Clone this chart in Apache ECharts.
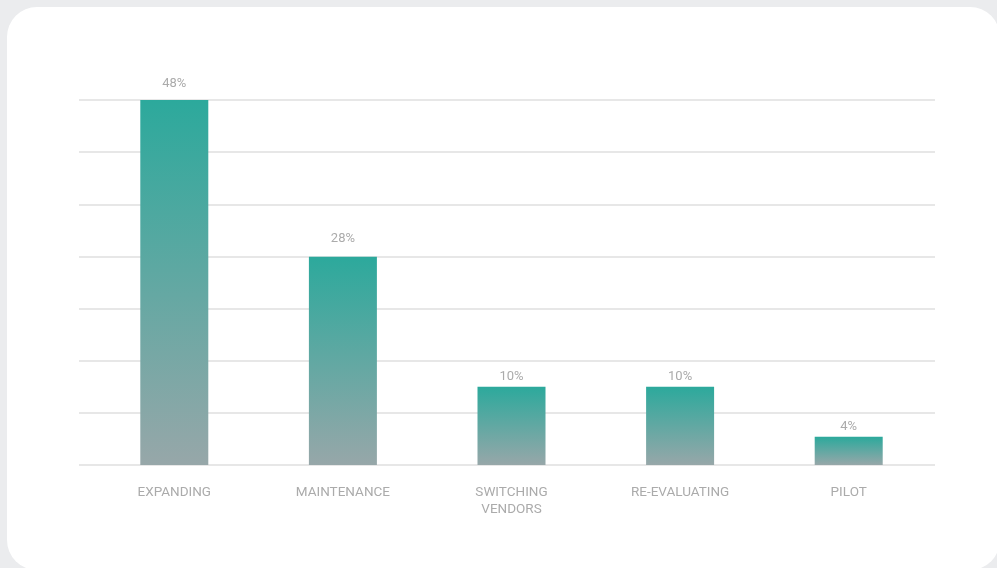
<!DOCTYPE html>
<html>
<head>
<meta charset="utf-8">
<script src="https://cdn.jsdelivr.net/npm/echarts@6/dist/echarts.min.js"></script>
<style>
    html, body { margin: 0; padding: 0; background: #ebecee; overflow: hidden; }
    #card { position: absolute; left: 7px; top: 7px; width: 993px; height: 563px; background: #fff; border-radius: 30px; }
    #chart { position: absolute; left: 0; top: 0; width: 997px; height: 568px; }
</style>
</head>
<body>
<div id="card"></div>
<div id="chart"></div>
<script>
    // values, labels as printed above the bars
    var categories = ['EXPANDING', 'MAINTENANCE', 'SWITCHING\nVENDORS', 'RE-EVALUATING', 'PILOT'];
    var shares = [48, 27.4, 10.3, 10.3, 3.7];
    var shareLabels = ['48%', '28%', '10%', '10%', '4%'];
    var axisMax = 48;
    var gridSteps = 7;

    var chartDom = document.getElementById('chart');
    var myChart = echarts.init(chartDom);
    var option;

    var barColor = new echarts.graphic.LinearGradient(0, 0, 0, 1, [
        { offset: 0, color: '#2ca99c' },
        { offset: 1, color: '#97a7a9' }
    ]);
    // the value labels sit closer to the short bars
    var labelGaps = [10, 11, 3, 3, 4];

    var barData = shares.map(function (v, i) {
        return { value: v, label: { distance: labelGaps[i] } };
    });

    option = {
        animation: false,
        textStyle: { fontFamily: 'Roboto' },
        grid: [
            { left: 79, right: 62, top: 100, bottom: 103 },
            { left: 90, right: 64, top: 100, bottom: 103 }
        ],
        xAxis: [
            {
                type: 'category',
                gridIndex: 0,
                data: categories,
                show: false
            },
            {
                type: 'category',
                gridIndex: 1,
                data: categories,
                axisLine: { show: false },
                axisTick: { show: false },
                axisLabel: {
                    margin: 19,
                    color: '#ababab',
                    fontSize: 13.5,
                    lineHeight: 17,
                    fontFamily: 'Roboto'
                }
            }
        ],
        yAxis: [
            {
                type: 'value',
                gridIndex: 0,
                min: 0,
                max: axisMax,
                interval: axisMax / gridSteps,
                axisLine: { show: false },
                axisTick: { show: false },
                axisLabel: { show: false },
                splitLine: { lineStyle: { color: '#e7e7e7', width: 2 } }
            },
            {
                type: 'value',
                gridIndex: 1,
                min: 0,
                max: axisMax,
                axisLine: { show: false },
                axisTick: { show: false },
                axisLabel: { show: false },
                splitLine: { show: false }
            }
        ],
        series: [
            {
                type: 'bar',
                xAxisIndex: 1,
                yAxisIndex: 1,
                data: barData,
                barWidth: 68,
                itemStyle: { color: barColor },
                label: {
                    show: true,
                    position: 'top',
                    color: '#ababab',
                    fontSize: 13,
                    fontFamily: 'Roboto',
                    formatter: function (p) {
                        return shareLabels[p.dataIndex];
                    }
                }
            }
        ]
    };

    option && myChart.setOption(option);
</script>
</body>
</html>
